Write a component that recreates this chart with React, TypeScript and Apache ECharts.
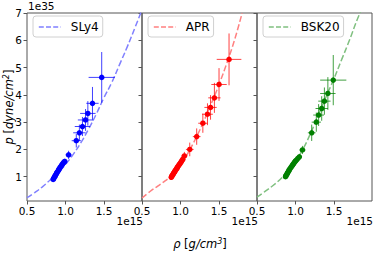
import React, { useEffect, useRef } from "react";
import * as echarts from "echarts";

// ---- data ----
const eosNames = ["SLy4", "APR", "BSK20"];
const markerColors = ["#0000ff", "#ff0000", "#008000"];
const curveColors = ["#8080ff", "#ff8080", "#80c080"];

// EOS curves: density (1e15 g/cm3) vs pressure (1e35 dyne/cm2)
const sly4Rho = [0.5, 0.6, 0.7, 0.8, 0.9, 1.0, 1.1, 1.2, 1.3, 1.4, 1.5, 1.6, 1.7, 1.8, 1.9, 1.99];
const sly4P = [0.23, 0.42, 0.63, 0.88, 1.14, 1.45, 1.82, 2.25, 2.75, 3.3, 3.9, 4.45, 5.1, 5.75, 6.45, 7.1];
const aprRho = [0.5, 0.6, 0.7, 0.8, 0.9, 1.0, 1.1, 1.2, 1.3, 1.4, 1.5, 1.6, 1.7, 1.8];
const aprP = [0.22, 0.45, 0.65, 0.85, 1.08, 1.42, 1.88, 2.42, 3.02, 3.68, 4.38, 5.15, 6.0, 7.0];
const bskRho = [0.5, 0.6, 0.7, 0.8, 0.9, 1.0, 1.1, 1.2, 1.3, 1.4, 1.5, 1.6, 1.7, 1.8, 1.87];
const bskP = [0.25, 0.45, 0.66, 0.9, 1.2, 1.58, 2.03, 2.62, 3.28, 3.95, 4.6, 5.3, 6.0, 6.75, 7.2];

// inferred points with errors
const sly4PtRho = [0.84, 0.845, 0.85, 0.86, 0.865, 0.87, 0.88, 0.885, 0.89, 0.9, 0.91, 0.915, 0.92, 0.93, 0.94, 0.95, 0.96, 0.97, 0.98, 0.99, 1.04, 1.14, 1.18, 1.22, 1.26, 1.29, 1.35, 1.47];
const sly4PtP = [0.9, 0.93, 0.96, 1.0, 1.03, 1.06, 1.1, 1.13, 1.16, 1.2, 1.24, 1.27, 1.3, 1.34, 1.38, 1.42, 1.46, 1.5, 1.53, 1.56, 1.8, 2.32, 2.61, 2.84, 3.08, 3.32, 3.69, 4.64];
const sly4PtXErr = [0.02, 0.02, 0.02, 0.02, 0.02, 0.02, 0.02, 0.02, 0.02, 0.02, 0.02, 0.02, 0.02, 0.02, 0.02, 0.02, 0.02, 0.025, 0.025, 0.025, 0.04, 0.06, 0.08, 0.1, 0.1, 0.1, 0.08, 0.17];
const sly4PtYErr = [0.05, 0.05, 0.05, 0.05, 0.05, 0.06, 0.06, 0.06, 0.06, 0.07, 0.07, 0.07, 0.08, 0.08, 0.08, 0.09, 0.09, 0.1, 0.1, 0.1, 0.15, 0.25, 0.3, 0.35, 0.4, 0.45, 0.6, 0.93];

const aprPtRho = [0.88, 0.885, 0.89, 0.9, 0.905, 0.91, 0.92, 0.925, 0.93, 0.94, 0.95, 0.955, 0.96, 0.97, 0.98, 0.99, 1.0, 1.01, 1.02, 1.03, 1.05, 1.12, 1.21, 1.29, 1.35, 1.39, 1.44, 1.5, 1.63];
const aprPtP = [0.98, 1.01, 1.04, 1.07, 1.1, 1.13, 1.16, 1.19, 1.22, 1.26, 1.29, 1.32, 1.35, 1.39, 1.43, 1.47, 1.51, 1.55, 1.6, 1.64, 1.76, 2.0, 2.47, 2.96, 3.29, 3.54, 3.89, 4.38, 5.3];
const aprPtXErr = [0.02, 0.02, 0.02, 0.02, 0.02, 0.02, 0.02, 0.02, 0.02, 0.02, 0.02, 0.02, 0.02, 0.02, 0.02, 0.025, 0.025, 0.025, 0.025, 0.025, 0.04, 0.05, 0.05, 0.06, 0.07, 0.08, 0.08, 0.1, 0.16];
const aprPtYErr = [0.05, 0.05, 0.05, 0.05, 0.05, 0.06, 0.06, 0.06, 0.06, 0.07, 0.07, 0.07, 0.08, 0.08, 0.08, 0.09, 0.09, 0.1, 0.1, 0.1, 0.15, 0.25, 0.3, 0.35, 0.4, 0.45, 0.55, 0.6, 0.95];

const bskPtRho = [0.87, 0.875, 0.88, 0.89, 0.895, 0.9, 0.91, 0.915, 0.92, 0.93, 0.94, 0.95, 0.96, 0.97, 0.98, 0.99, 1.0, 1.015, 1.03, 1.05, 1.09, 1.21, 1.27, 1.3, 1.34, 1.375, 1.42, 1.49];
const bskPtP = [1.0, 1.03, 1.06, 1.1, 1.13, 1.16, 1.2, 1.23, 1.26, 1.3, 1.34, 1.38, 1.42, 1.46, 1.5, 1.54, 1.58, 1.62, 1.67, 1.73, 1.98, 2.61, 3.0, 3.26, 3.5, 3.77, 4.05, 4.54];
const bskPtXErr = [0.02, 0.02, 0.02, 0.02, 0.02, 0.02, 0.02, 0.02, 0.02, 0.02, 0.02, 0.02, 0.02, 0.02, 0.025, 0.025, 0.025, 0.025, 0.025, 0.03, 0.04, 0.05, 0.06, 0.07, 0.08, 0.08, 0.1, 0.17];
const bskPtYErr = [0.05, 0.05, 0.05, 0.05, 0.05, 0.06, 0.06, 0.06, 0.06, 0.07, 0.07, 0.07, 0.08, 0.08, 0.08, 0.09, 0.09, 0.1, 0.1, 0.1, 0.15, 0.3, 0.35, 0.4, 0.45, 0.5, 0.6, 0.92];

const xTicks = [0.5, 1.0, 1.5];
const yTicks = [1, 2, 3, 4, 5, 6, 7];

const curves = [
  [sly4Rho, sly4P],
  [aprRho, aprP],
  [bskRho, bskP],
];
const points = [
  [sly4PtRho, sly4PtP, sly4PtXErr, sly4PtYErr],
  [aprPtRho, aprPtP, aprPtXErr, aprPtYErr],
  [bskPtRho, bskPtP, bskPtXErr, bskPtYErr],
];

const FONT = "DejaVu Sans";
const AXIS = "#555";

export default function App() {
  const ref = useRef<HTMLDivElement>(null);
  useEffect(() => {
    if (!ref.current) return;
    const chart = echarts.init(ref.current, undefined, { renderer: "svg" });
    const lefts = [27, 142, 257];
    const W = 115;
    const top = 13;
    const H = 188;

    const grids = lefts.map((l) => ({
      left: l,
      top,
      width: W,
      height: H,
      show: true,
      borderColor: AXIS,
      borderWidth: 1,
      backgroundColor: "transparent",
    }));
    const xAxes = lefts.map((_, i) => ({
      type: "value",
      gridIndex: i,
      min: 0.5,
      max: 1.993,
      splitLine: { show: false },
      axisLine: { show: false },
      axisTick: { show: true, length: 3.5, lineStyle: { color: AXIS }, customValues: xTicks },
      axisLabel: {
        customValues: xTicks,
        formatter: (v: number) => v.toFixed(1),
        fontFamily: FONT,
        fontSize: 10.5,
        color: "#000",
        margin: 4,
      },
    }));
    const yAxes = lefts.map((_, i) => ({
      type: "value",
      gridIndex: i,
      min: 0.11,
      max: 7,
      splitLine: { show: false },
      axisLine: { show: false },
      axisTick: { show: true, length: 3.5, lineStyle: { color: AXIS }, customValues: yTicks },
      axisLabel: {
        show: i === 0,
        customValues: yTicks,
        formatter: (v: number) => String(Math.round(v)),
        fontFamily: FONT,
        fontSize: 10.5,
        color: "#000",
        margin: 5,
      },
    }));

    const series: any[] = [];
    for (let i = 0; i < 3; i++) {
      const [cr, cp] = curves[i];
      series.push({
        name: eosNames[i],
        type: "line",
        xAxisIndex: i,
        yAxisIndex: i,
        data: cr.map((r, k) => [r, cp[k]]),
        smooth: true,
        showSymbol: false,
        symbol: "none",
        clip: true,
        lineStyle: { color: curveColors[i], width: 1.5, type: [6, 2.6] },
        itemStyle: { color: curveColors[i] },
        z: 2,
      });
      const [pr, pp, xe, ye] = points[i];
      const col = markerColors[i];
      series.push({
        type: "custom",
        xAxisIndex: i,
        yAxisIndex: i,
        data: pr.map((r, k) => [r, pp[k], xe[k], ye[k]]),
        renderItem: (params: any, api: any) => {
          const x = api.value(0);
          const y = api.value(1);
          const dx = api.value(2);
          const dy = api.value(3);
          const a = api.coord([x - dx, y]);
          const b = api.coord([x + dx, y]);
          const c = api.coord([x, y - dy]);
          const d = api.coord([x, y + dy]);
          const style = { stroke: col, lineWidth: 1, opacity: 0.75 };
          return {
            type: "group",
            children: [
              { type: "line", shape: { x1: a[0], y1: a[1], x2: b[0], y2: b[1] }, style },
              { type: "line", shape: { x1: c[0], y1: c[1], x2: d[0], y2: d[1] }, style },
            ],
          };
        },
        z: 3,
        silent: true,
      });
      series.push({
        type: "scatter",
        xAxisIndex: i,
        yAxisIndex: i,
        data: pr.map((r, k) => [r, pp[k]]),
        symbol: "circle",
        symbolSize: 5.5,
        itemStyle: { color: col, opacity: 1 },
        z: 4,
      });
    }

    const legendLefts = [33, 148, 263];
    const legends = legendLefts.map((l, i) => ({
      data: [eosNames[i]],
      left: l,
      top: 16,
      orient: "horizontal",
      backgroundColor: "#fff",
      borderColor: "#d0d0d0",
      borderWidth: 1,
      borderRadius: 3,
      padding: [5, 4, 4, 5],
      itemWidth: 22,
      itemHeight: 11,
      selectedMode: false,
      itemStyle: { opacity: 0 },
      lineStyle: { type: [5, 2.2], width: 1.6, color: curveColors[i] },
      textStyle: { fontFamily: FONT, fontSize: 12, color: "#000", padding: [0, 0, 0, 5] },
    }));

    const graphic = [
      { type: "text", left: 28, top: 0, style: { text: "1e35", font: `10.5px "${FONT}"`, fill: "#000" } },
      ...lefts.map((l) => ({
        type: "text",
        right: 374 - (l + W) - 1,
        top: 215,
        style: { text: "1e15", font: `10.5px "${FONT}"`, fill: "#000" },
      })),
      {
        type: "text",
        x: 200,
        y: 244,
        style: {
          text: "{i|ρ} [{i|g/cm}{s|3}]",
          align: "center",
          verticalAlign: "middle",
          rich: {
            i: { fontFamily: FONT, fontSize: 11.5, fontStyle: "italic", fill: "#000" },
            s: { fontFamily: FONT, fontSize: 8, fontStyle: "italic", fill: "#000", padding: [0, 0, 6, 0] },
          },
          font: `11.5px "${FONT}"`,
          fill: "#000",
        },
      },
      {
        type: "text",
        x: 9,
        y: 107,
        rotation: Math.PI / 2,
        style: {
          text: "{i|p} [{i|dyne/cm}{s|2}]",
          align: "center",
          verticalAlign: "middle",
          rich: {
            i: { fontFamily: FONT, fontSize: 11.5, fontStyle: "italic", fill: "#000" },
            s: { fontFamily: FONT, fontSize: 8, fontStyle: "italic", fill: "#000", padding: [0, 0, 6, 0] },
          },
          font: `11.5px "${FONT}"`,
          fill: "#000",
        },
      },
    ];

    chart.setOption({
      animation: false,
      backgroundColor: "#fff",
      grid: grids,
      xAxis: xAxes,
      yAxis: yAxes,
      legend: legends,
      series,
      graphic,
    });
    return () => chart.dispose();
  }, []);
  return <div ref={ref} style={{ width: 374, height: 255, position: "absolute", left: 0, top: 0 }} />;
}
